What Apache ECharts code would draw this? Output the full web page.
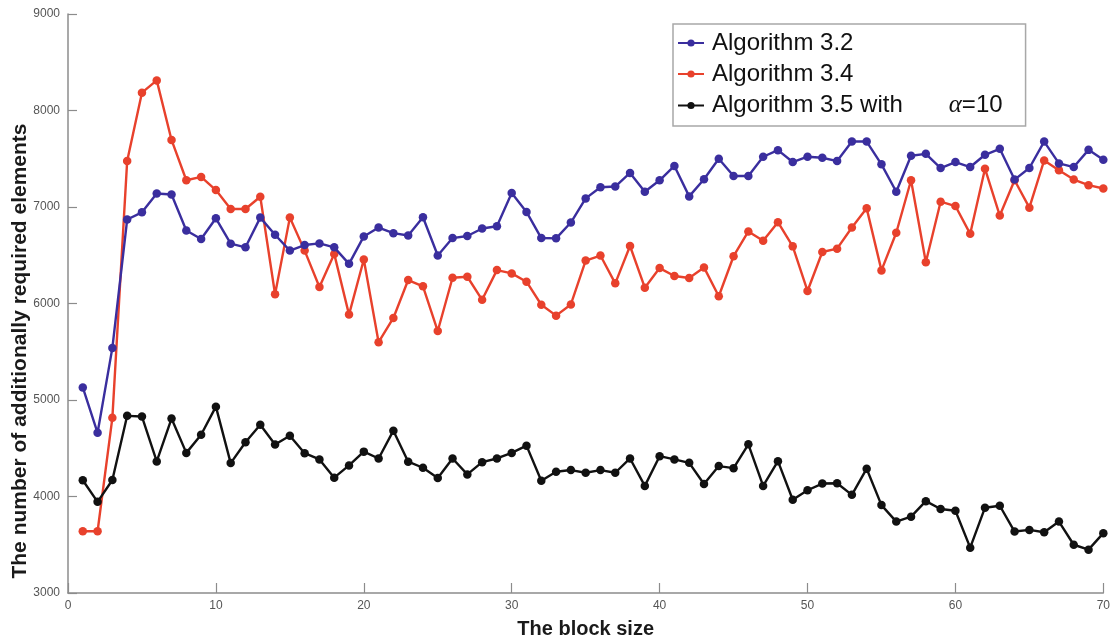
<!DOCTYPE html>
<html>
<head>
<meta charset="utf-8">
<title>Additionally required elements vs block size</title>
<script src="https://cdn.jsdelivr.net/npm/echarts@6/dist/echarts.min.js"></script>
<style>
  html, body { margin: 0; padding: 0; background: #ffffff; }
  #chart { width: 1113px; height: 644px; }
</style>
</head>
<body>
<div id="chart"></div>
<script>
// Block sizes on the horizontal axis
const blockSizes = [
  1, 2, 3, 4, 5, 6, 7, 8, 9, 10,
  11, 12, 13, 14, 15, 16, 17, 18, 19, 20,
  21, 22, 23, 24, 25, 26, 27, 28, 29, 30,
  31, 32, 33, 34, 35, 36, 37, 38, 39, 40,
  41, 42, 43, 44, 45, 46, 47, 48, 49, 50,
  51, 52, 53, 54, 55, 56, 57, 58, 59, 60,
  61, 62, 63, 64, 65, 66, 67, 68, 69, 70
];

// Number of additionally required elements per algorithm
const alg32 = [
  5130, 4660, 5540, 6870, 6945, 7140, 7130, 6757, 6668, 6883,
  6620, 6582, 6890, 6712, 6548, 6606, 6623, 6582, 6411, 6695,
  6787, 6729, 6705, 6894, 6497, 6678, 6699, 6777, 6801, 7144,
  6949, 6678, 6675, 6839, 7089, 7205, 7212, 7353, 7158, 7277,
  7425, 7110, 7288, 7500, 7322, 7322, 7521, 7589, 7466, 7521,
  7510, 7476, 7678, 7678, 7442, 7158, 7531, 7551, 7404, 7466,
  7414, 7541, 7603, 7284, 7404, 7678, 7452, 7414, 7592, 7490
];

const alg34 = [
  3640, 3640, 4815, 7476, 8185, 8312, 7695, 7277, 7312, 7175,
  6979, 6979, 7106, 6096, 6890, 6548, 6171, 6514, 5885, 6456,
  5599, 5850, 6243, 6178, 5715, 6267, 6277, 6038, 6346, 6312,
  6226, 5987, 5874, 5990, 6445, 6497, 6209, 6596, 6164, 6367,
  6285, 6264, 6374, 6075, 6490, 6747, 6650, 6842, 6592, 6130,
  6534, 6568, 6788, 6986, 6343, 6733, 7277, 6428, 7055, 7010,
  6722, 7397, 6911, 7277, 6993, 7483, 7380, 7284, 7226, 7192
];

const alg35 = [
  4168, 3945, 4171, 4836, 4829, 4363, 4808, 4452, 4640, 4931,
  4346, 4562, 4743, 4538, 4630, 4449, 4384, 4195, 4322, 4465,
  4394, 4682, 4361, 4298, 4192, 4394, 4229, 4356, 4394, 4452,
  4527, 4164, 4257, 4274, 4246, 4274, 4246, 4394, 4110, 4418,
  4384, 4349, 4130, 4315, 4294, 4541, 4110, 4366, 3966, 4065,
  4134, 4137, 4017, 4288, 3911, 3740, 3791, 3952, 3870, 3853,
  3470, 3884, 3904, 3637, 3654, 3630, 3740, 3500, 3449, 3620
];

const seriesNames = ['Algorithm 3.2', 'Algorithm 3.4', 'Algorithm 3.5 with α=10'];
const seriesColors = ['#3a2e9e', '#e8412c', '#111111'];

const xTicks = { min: 0, max: 70, interval: 10 };
const yTicks = { min: 3000, max: 9000, interval: 1000 };

function pairs(values) {
  return blockSizes.map((b, i) => [b, values[i]]);
}

const FONT = '"Liberation Sans", Arial, Helvetica, sans-serif';

function makeSeries(name, values, color, z) {
  return {
    name: name,
    type: 'line',
    data: pairs(values),
    symbol: 'circle',
    symbolSize: 8.5,
    z: z,
    lineStyle: { color: color, width: 2.4 },
    itemStyle: { color: color },
    emphasis: { disabled: true },
    animation: false
  };
}

const chart = echarts.init(document.getElementById('chart'), null, { renderer: 'canvas' });

const axisGray = '#8c8c8c';

chart.setOption({
  backgroundColor: '#ffffff',
  animation: false,
  grid: { left: 68, right: 7, top: 14, bottom: 46, containLabel: false },
  xAxis: {
    type: 'value',
    min: xTicks.min,
    max: xTicks.max,
    interval: xTicks.interval,
    name: 'The block size',
    nameLocation: 'middle',
    nameGap: 26,
    nameTextStyle: { fontFamily: FONT, fontWeight: 'bold', fontSize: 20, color: '#1a1a1a' },
    axisLine: { show: true, onZero: false, lineStyle: { color: axisGray, width: 1.5 } },
    axisTick: { show: true, inside: true, length: 10, lineStyle: { color: axisGray, width: 1.2 } },
    axisLabel: { fontFamily: FONT, fontSize: 12, color: '#555555', margin: 7 },
    splitLine: { show: false }
  },
  yAxis: {
    type: 'value',
    min: yTicks.min,
    max: yTicks.max,
    interval: yTicks.interval,
    axisLine: { show: true, lineStyle: { color: axisGray, width: 1.5 } },
    axisTick: { show: true, inside: true, length: 9, lineStyle: { color: axisGray, width: 1.2 } },
    axisLabel: {
      fontFamily: FONT,
      fontSize: 12,
      color: '#555555',
      margin: 8,
      formatter: function (v) { return String(v); }
    },
    splitLine: { show: false }
  },
  legend: {
    orient: 'vertical',
    left: 673,
    top: 24,
    itemWidth: 26,
    itemHeight: 9,
    itemGap: 7,
    padding: [7, 23, 8, 4],
    borderColor: '#a8a8a8',
    borderWidth: 1.5,
    backgroundColor: '#ffffff',
    selectedMode: false,
    data: seriesNames,
    formatter: function (name) {
      if (name === seriesNames[2]) {
        return '{t|Algorithm 3.5 with}{a|α}{t|=10}';
      }
      return name;
    },
    textStyle: {
      fontFamily: FONT,
      fontSize: 24,
      color: '#111111',
      padding: [0, 0, 0, 3],
      rich: {
        t: { fontFamily: FONT, fontSize: 24, color: '#111111' },
        a: {
          fontFamily: '"Liberation Serif", "DejaVu Serif", serif',
          fontStyle: 'italic',
          fontSize: 25,
          color: '#111111',
          padding: [0, 0, 0, 46]
        }
      }
    }
  },
  graphic: [
    {
      type: 'text',
      x: 20,
      y: 351,
      rotation: Math.PI / 2,
      style: {
        text: 'The number of additionally required elements',
        font: 'bold 21px ' + FONT,
        fill: '#1a1a1a',
        align: 'center',
        verticalAlign: 'middle'
      },
      silent: true
    }
  ],
  series: [
    makeSeries(seriesNames[0], alg32, seriesColors[0], 3),
    makeSeries(seriesNames[1], alg34, seriesColors[1], 2),
    makeSeries(seriesNames[2], alg35, seriesColors[2], 4)
  ]
});
</script>
</body>
</html>
